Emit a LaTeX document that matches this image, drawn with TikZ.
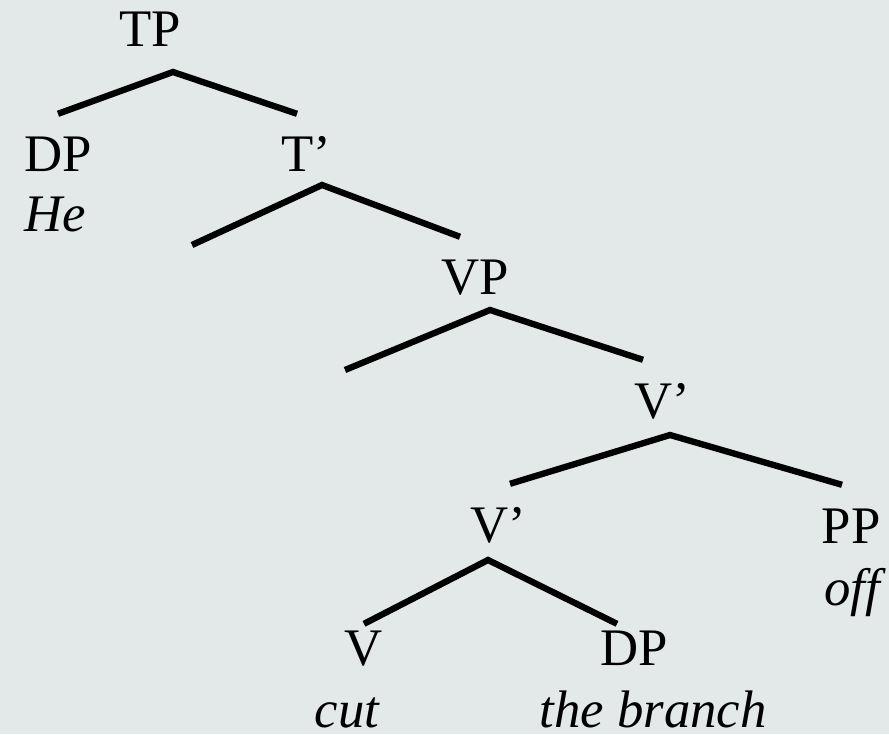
\documentclass[tikz,border=0pt]{standalone}
\usepackage{fontspec}
\setmainfont{Liberation Serif}
\definecolor{paper}{RGB}{227,232,232}
\begin{document}
\begin{tikzpicture}[x=0.01cm, y=-0.01cm, line width=1.8pt,
  cat/.style={anchor=base, inner xsep=0pt, inner ysep=0.2cm, text height=0.35cm, font=\fontsize{15}{18}\selectfont},
  leaf/.style={cat, inner ysep=0.03cm},
  word/.style={anchor=base, inner sep=0pt, font=\fontsize{15}{18}\selectfont\itshape}]
\useasboundingbox (0,0) rectangle (889,734);
\fill[paper] (0,0) rectangle (889,734);
\node[cat] (tp) at (150,47) {TP};
\node[cat] (dp1) at (58,172) {DP};
\node[word] (he) at (55,232) {He};
\node[cat] (tbar) at (306,172) {T’};
\node[cat] (vp) at (475,295) {VP};
\node[cat] (vbar1) at (662,418) {V’};
\node[cat] (vbar2) at (498,542) {V’};
\node[cat] (pp) at (851,543) {PP};
\node[word] (off) at (852,605) {off};
\node[leaf] (v) at (364,665) {V};
\node[word] (cut) at (347,727) {cut};
\node[leaf] (dp2) at (634,665) {DP};
\node[word] (branch) at (653,727) {the branch};
\coordinate (tpfork) at (173,72);
\coordinate (tfork) at (322,185);
\coordinate (vpfork) at (490,310);
\coordinate (vfork1) at (670,435);
\coordinate (vfork2) at (488,560);
\coordinate (tspec) at (192,245);
\coordinate (vspec) at (345,370);
\draw (dp1.north) -- (tpfork) -- ([xshift=-0.09cm]tbar.north);
\draw (tspec) -- (tfork) -- ([xshift=-0.15cm]vp.north);
\draw (vspec) -- (vpfork) -- ([xshift=-0.19cm]vbar1.north);
\draw ([xshift=0.12cm]vbar2.north) -- (vfork1) -- ([xshift=-0.09cm]pp.north);
\draw (v.north) -- (vfork2) -- ([xshift=-0.17cm]dp2.north);
\end{tikzpicture}
\end{document}
